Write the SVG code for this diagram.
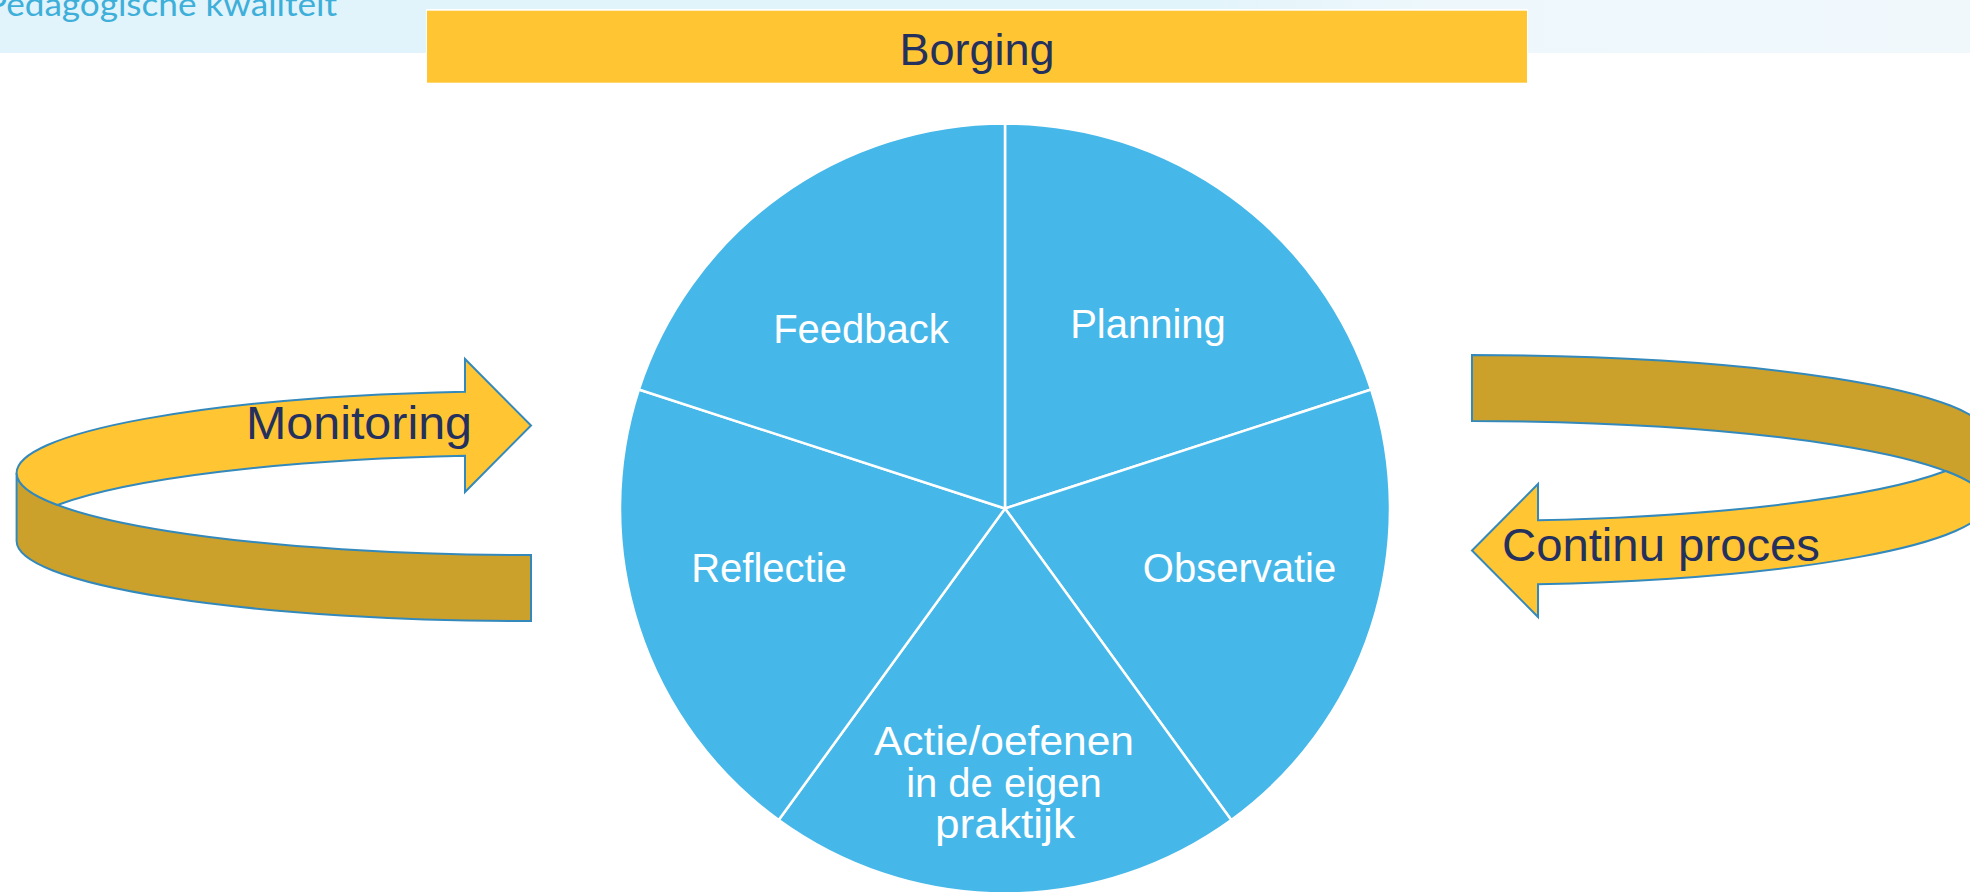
<svg xmlns="http://www.w3.org/2000/svg" xmlns:xlink="http://www.w3.org/1999/xlink" width="1970" height="892" viewBox="0 0 1970 892">
  <style>
    .wedge { fill: #46B7E9; stroke: #FFFFFF; stroke-width: 2.5; stroke-linejoin: round; }
    .lbl { font-family: "Liberation Sans", Arial, sans-serif; font-size: 40px; fill: #FFFFFF; text-anchor: middle; }
    .navy { font-family: "Liberation Sans", Arial, sans-serif; fill: #24305E; }
    .arrowTop { fill: #FFC533; stroke: #3389BC; stroke-width: 2; stroke-linejoin: miter; }
    .arrowDark { fill: #CBA02B; stroke: #3389BC; stroke-width: 2; stroke-linejoin: miter; }
  </style>
  <defs>
    <linearGradient id="hdrRight" x1="0" y1="0" x2="1" y2="0">
      <stop offset="0" stop-color="#E4F4FB"/>
      <stop offset="0.3" stop-color="#EEF8FC"/>
      <stop offset="1" stop-color="#F0F8FC"/>
    </linearGradient>
    <g id="curvedArrow">
      <path class="arrowDark" d="M16.6,473 A514.4,82 0 0 0 531,555 L531,621 A514.4,80 0 0 1 16.6,541 Z"/>
      <path class="arrowTop" d="M16.6,473 A514.4,82 0 0 1 465,391.7 L465,359 L531,425.5 L465,492 L465,455.7 A514.4,82 0 0 0 57.4,505 A514.4,82 0 0 1 16.6,473 Z"/>
    </g>
  </defs>

  <rect x="0" y="0" width="1970" height="892" fill="#FFFFFF"/>

  <g id="header">
    <rect x="0" y="0" width="1970" height="53" fill="#E1F3FB"/>
    <rect x="1220" y="0" width="750" height="53" fill="url(#hdrRight)"/>
    <text x="-14" y="16" font-family="Lato, 'Liberation Sans', sans-serif" font-size="32" fill="#3DAFD9" textLength="351" lengthAdjust="spacingAndGlyphs">Pedagogische kwaliteit</text>
  </g>

  <g id="node-borging">
    <rect x="426" y="9" width="1102" height="75" fill="#FFFFFF"/>
    <rect x="427" y="10.7" width="1100" height="72" fill="#FFC533"/>
    <text class="navy" x="977" y="65" font-size="45" text-anchor="middle">Borging</text>
  </g>

  <g id="node-planning">
    <path class="wedge" d="M1005,508.5 L1005,123.5 A385,385 0 0 1 1371.16,389.53 Z"/>
    <text class="lbl" x="1148" y="338">Planning</text>
  </g>
  <g id="node-observatie">
    <path class="wedge" d="M1005,508.5 L1371.16,389.53 A385,385 0 0 1 1231.3,819.97 Z"/>
    <text class="lbl" x="1239.5" y="581.7">Observatie</text>
  </g>
  <g id="node-actie">
    <path class="wedge" d="M1005,508.5 L1231.3,819.97 A385,385 0 0 1 778.7,819.97 Z"/>
    <text class="lbl" x="1004" y="755" textLength="260" lengthAdjust="spacingAndGlyphs">Actie/oefenen</text>
    <text class="lbl" x="1004" y="796.5">in de eigen</text>
    <text class="lbl" x="1005" y="838" textLength="140" lengthAdjust="spacingAndGlyphs">praktijk</text>
  </g>
  <g id="node-reflectie">
    <path class="wedge" d="M1005,508.5 L778.7,819.97 A385,385 0 0 1 638.84,389.53 Z"/>
    <text class="lbl" x="769" y="581.7">Reflectie</text>
  </g>
  <g id="node-feedback">
    <path class="wedge" d="M1005,508.5 L638.84,389.53 A385,385 0 0 1 1005,123.5 Z"/>
    <text class="lbl" x="861" y="342.7">Feedback</text>
  </g>

  <g id="node-monitoring">
    <use xlink:href="#curvedArrow" href="#curvedArrow"/>
    <text class="navy" x="246" y="439.3" font-size="46" textLength="226" lengthAdjust="spacingAndGlyphs">Monitoring</text>
  </g>

  <g id="node-continu-proces">
    <use xlink:href="#curvedArrow" href="#curvedArrow" transform="rotate(180 1001.5 488)"/>
    <text class="navy" x="1502" y="560.7" font-size="46" textLength="318" lengthAdjust="spacingAndGlyphs">Continu proces</text>
  </g>
</svg>
